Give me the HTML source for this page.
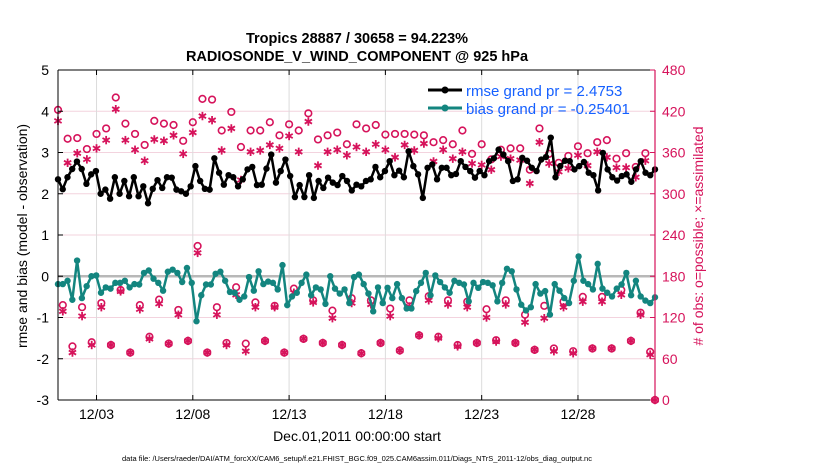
<!DOCTYPE html>
<html><head><meta charset="utf-8"><style>
body{margin:0;background:#fff;font-family:"Liberation Sans",sans-serif;}
svg text{font-family:"Liberation Sans",sans-serif;}
</style></head><body>
<svg id="c" width="830" height="470" xmlns="http://www.w3.org/2000/svg">
<rect width="830" height="470" fill="#fff"/>
<text x="357" y="43" text-anchor="middle" font-size="14.5" font-weight="bold">Tropics 28887 / 30658 = 94.223%</text>
<text x="357" y="61" text-anchor="middle" font-size="14.5" font-weight="bold">RADIOSONDE_V_WIND_COMPONENT @ 925 hPa</text>
<g id="grid"></g><g id="marks"></g><g id="axes"></g>
<text transform="translate(27,236) rotate(-90)" text-anchor="middle" font-size="14">rmse and bias (model - observation)</text>
<text transform="translate(703,236) rotate(-90)" text-anchor="middle" font-size="14" fill="#d6135b"># of obs: o=possible; ×=assimilated</text>
<text x="357" y="441" text-anchor="middle" font-size="14">Dec.01,2011 00:00:00 start</text>
<text x="357" y="461" text-anchor="middle" font-size="7.5">data file: /Users/raeder/DAI/ATM_forcXX/CAM6_setup/f.e21.FHIST_BGC.f09_025.CAM6assim.011/Diags_NTrS_2011-12/obs_diag_output.nc</text>
<g>
<line x1="428" y1="90" x2="462" y2="90" stroke="#000" stroke-width="3"/><circle cx="445" cy="90" r="3.5" fill="#000"/>
<text x="466" y="96" font-size="15" fill="#1560ff">rmse grand pr = 2.4753</text>
<line x1="428" y1="108" x2="462" y2="108" stroke="#13857f" stroke-width="3"/><circle cx="445" cy="108" r="3.5" fill="#13857f"/>
<text x="466" y="114" font-size="15" fill="#1560ff">bias grand pr = -0.25401</text>
</g>
</svg>
<script>
const rmse=[2.35,2.11,2.4,2.6,2.78,2.6,2.24,2.47,2.55,2.0,2.1,1.88,2.4,2.0,2.31,1.94,2.4,1.94,2.18,1.77,2.12,2.33,2.14,2.4,2.39,2.1,2.06,2.0,2.18,2.67,2.31,2.12,
2.1,2.86,2.51,2.22,2.45,2.4,2.18,2.35,2.59,2.65,2.21,2.22,2.61,2.95,2.27,2.55,2.83,2.43,1.92,2.21,1.92,2.45,1.9,2.31,2.14,2.39,2.27,2.21,2.43,2.31,2.08,2.22,
2.18,2.31,2.35,2.65,2.4,2.55,2.79,2.45,2.56,2.4,3.03,2.67,2.47,1.9,2.63,2.71,2.35,2.63,2.63,2.45,2.48,2.79,2.65,2.55,2.39,2.55,2.45,2.79,2.86,3.07,2.95,2.79,2.31,
2.35,2.87,2.8,2.63,2.55,2.83,2.89,3.36,2.4,2.67,2.8,2.79,2.59,2.67,2.77,2.51,2.45,2.08,2.99,2.59,2.4,2.32,2.43,2.47,2.29,2.59,2.79,2.51,2.45,2.59];
const bias=[-0.19,-0.19,-0.11,-0.57,0.38,-0.53,-0.24,0.0,0.02,-0.4,-0.27,-0.3,-0.16,-0.16,-0.11,-0.27,-0.19,-0.2,0.08,0.14,-0.06,-0.16,-0.35,0.11,0.16,0.08,-0.14,0.2,-0.16,-1.09,-0.46,-0.2,
-0.2,0.06,0.11,-0.11,-0.38,-0.4,-0.57,-0.49,-0.02,-0.35,0.12,-0.19,-0.13,-0.16,-0.32,0.27,-0.7,-0.49,-0.4,-0.16,0.04,-0.46,-0.27,-0.32,-0.67,0.0,-0.3,-0.42,-0.32,-0.65,-0.02,0.04,
-0.19,-0.42,-0.85,-0.27,-0.65,-0.28,-0.53,-0.19,-0.53,-0.78,-0.78,-0.36,-0.16,0.08,-0.46,0.02,-0.14,-0.27,-0.4,-0.11,-0.16,-0.2,-0.61,-0.16,-0.28,-0.14,-0.16,-0.22,-0.61,-0.16,0.18,0.12,
-0.32,-0.69,-0.83,-0.75,-0.19,-0.42,-0.36,-0.93,-0.19,-0.35,-0.53,-0.65,-0.11,0.48,-0.11,-0.19,-0.32,0.3,-0.3,-0.4,-0.49,-0.3,-0.2,0.08,-0.46,-0.11,-0.49,-0.59,-0.65,-0.51];
const possible=[422,138,380,78,381,135,365,84,387,141,395,80,440,160,402,69,387,138,371,92,406,146,402,82,400,131,377,86,404,224,438,69,
437,135,392,83,419,164,368,82,392,142,392,86,404,137,385,69,401,162,392,89,417,145,379,83,385,130,389,80,372,148,401,
68,395,145,400,83,386,133,387,72,387,145,386,94,385,151,375,92,378,145,372,80,392,143,358,83,372,132,350,87,364,145,
366,83,366,124,335,73,395,137,358,75,345,143,355,71,369,150,359,75,375,150,378,75,351,160,359,86,339,127,359,70,0];
const assimilated=[406,129,345,69,359,122,350,80,366,135,378,80,423,158,378,69,364,132,348,89,379,140,377,82,385,124,358,86,389,214,413,69,
407,124,363,80,395,153,320,71,361,135,363,86,371,135,366,69,384,156,361,89,405,142,341,83,361,119,364,80,356,141,368,
68,361,139,372,83,364,122,353,72,371,136,363,94,373,145,347,90,364,139,351,78,361,135,344,83,342,120,335,85,354,139,
351,83,349,113,315,73,375,119,344,71,332,135,337,68,356,143,341,75,361,143,353,75,338,153,338,86,324,124,348,66,0];
const xTickDays=[3,8,13,18,23,28];
const xTickLabels=["12/03","12/08","12/13","12/18","12/23","12/28"];
const leftTicks=[5,4,3,2,1,0,-1,-2,-3];
const rightTicks=[480,420,360,300,240,180,120,60,0];

const X0=58,X1=655,YT=70,YB=400,PINK="#d6135b",TEAL="#13857f";
const xDay=d=>X0+(d-1)/(32-1)*(X1-X0);
const xIdx=(i,n)=>xDay(1+i*(31/(n-1)));
const yL=v=>YB-(v+3)/8*(YB-YT);
const yR=v=>YB-v/480*(YB-YT);
const NS="http://www.w3.org/2000/svg";
function mk(tag,attrs,parent){const e=document.createElementNS(NS,tag);for(const k in attrs)e.setAttribute(k,attrs[k]);parent.appendChild(e);return e;}
const grid=document.getElementById('grid'),marks=document.getElementById('marks'),axes=document.getElementById('axes');
leftTicks.forEach(v=>{const g=mk('line',{x1:X0,x2:X1,y1:yL(v),y2:yL(v),stroke:'#f3d3de','stroke-width':1},grid);

});
xTickDays.forEach(d=>{const g=mk('line',{x1:xDay(d),x2:xDay(d),y1:YT,y2:YB,stroke:'#dcdcdc','stroke-width':1},grid);

});
const zl=mk('line',{x1:X0,x2:X1,y1:yL(0),y2:yL(0),stroke:'#b8b8b8','stroke-width':2.5},grid);



function star(cx,cy,p){const g=mk('g',{stroke:PINK,'stroke-width':1.8},p);
for(let a=0;a<3;a++){const t=a*Math.PI/3+Math.PI/2,dx=4.2*Math.cos(t),dy=4.2*Math.sin(t);mk('line',{x1:cx-dx,y1:cy-dy,x2:cx+dx,y2:cy+dy},g);}
return g;}
const n=possible.length;
assimilated.forEach((v,i)=>{const s=star(xIdx(i,n),yR(v),marks);

});
possible.forEach((v,i)=>{const c=mk('circle',{cx:xIdx(i,n),cy:yR(v),r:3.3,fill:'none',stroke:PINK,'stroke-width':1.6},marks);

});

function series(arr,color,name){
const pts=arr.map((v,i)=>xIdx(i,arr.length).toFixed(1)+','+yL(v).toFixed(1)).join(' ');
const pl=mk('polyline',{points:pts,fill:'none',stroke:color,'stroke-width':2.5,'stroke-linejoin':'round'},marks);


arr.forEach((v,i)=>{const c=mk('circle',{cx:xIdx(i,arr.length),cy:yL(v),r:3.2,fill:color},marks);

});}
series(bias,TEAL,'bias');
series(rmse,'#000','rmse');

mk('line',{x1:X0,x2:X1,y1:YT,y2:YT,stroke:'#000','stroke-width':1},axes);
mk('line',{x1:X0,x2:X1,y1:YB,y2:YB,stroke:'#000','stroke-width':1},axes);
mk('line',{x1:X0,x2:X0,y1:YT,y2:YB,stroke:'#000','stroke-width':1},axes);
mk('line',{x1:X1,x2:X1,y1:YT,y2:YB,stroke:PINK,'stroke-width':1.2},axes);
leftTicks.forEach(v=>{mk('line',{x1:X0,x2:X0+5,y1:yL(v),y2:yL(v),stroke:'#000'},axes);
const t=mk('text',{x:X0-9,y:yL(v)+5,'text-anchor':'end','font-size':14},axes);t.textContent=v;

});
rightTicks.forEach(v=>{mk('line',{x1:X1-5,x2:X1,y1:yR(v),y2:yR(v),stroke:PINK},axes);
const t=mk('text',{x:X1+7,y:yR(v)+5,'font-size':14,fill:PINK},axes);t.textContent=v;

});
xTickDays.forEach((d,i)=>{mk('line',{x1:xDay(d),x2:xDay(d),y1:YB,y2:YB-5,stroke:'#000'},axes);mk('line',{x1:xDay(d),x2:xDay(d),y1:YT,y2:YT+5,stroke:'#000'},axes);
const t=mk('text',{x:xDay(d),y:YB+19,'text-anchor':'middle','font-size':14},axes);t.textContent=xTickLabels[i];

});
</script>
</body></html>
